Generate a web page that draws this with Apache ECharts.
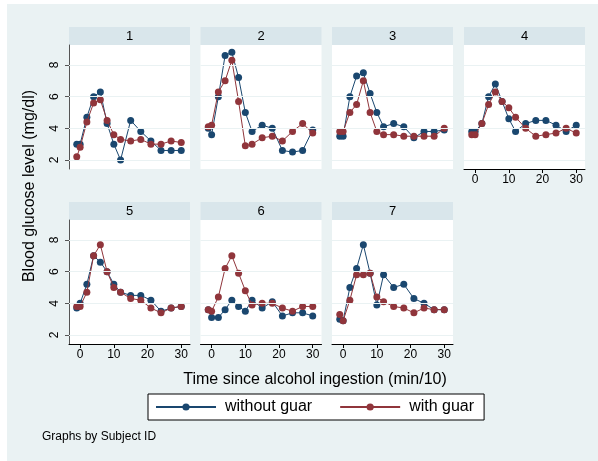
<!DOCTYPE html>
<html>
<head>
<meta charset="utf-8">
<script src="https://cdn.jsdelivr.net/npm/echarts@6/dist/echarts.min.js"></script>
<style>
  html, body { margin: 0; padding: 0; background: #ffffff; }
  #chart { width: 598px; height: 461px; }
</style>
</head>
<body>
<div id="chart"></div>
<script>
// Blood glucose after alcohol, with and without guar, one panel per subject
const panelNames = ['1', '2', '3', '4', '5', '6', '7'];
const times = [-1, 0, 2, 4, 6, 8, 10, 12, 15, 18, 21, 24, 27, 30];
const xTicks = [0, 10, 20, 30];
const yTicks = [2, 4, 6, 8];
const seriesNames = ['without guar', 'with guar'];

const subj1Without = [3.0, 3.0, 4.7, 6.0, 6.3, 4.3, 3.0, 2.0, 4.5, 3.8, 3.2, 2.6, 2.6, 2.6];
const subj1With    = [2.2, 2.8, 4.4, 5.6, 5.8, 4.5, 3.6, 3.3, 3.2, 3.3, 3.0, 3.0, 3.2, 3.1];
const subj2Without = [4.0, 3.6, 6.0, 8.6, 8.8, 7.2, 5.0, 3.8, 4.2, 4.0, 2.6, 2.5, 2.6, 3.9];
const subj2With    = [4.1, 4.2, 6.3, 7.0, 8.3, 5.7, 2.9, 3.0, 3.4, 3.5, 3.2, 3.8, 4.3, 3.7];
const subj3Without = [3.5, 3.5, 6.0, 7.3, 7.5, 6.2, 5.0, 4.1, 4.3, 4.1, 3.4, 3.8, 3.8, 3.9];
const subj3With    = [3.8, 3.8, 5.0, 5.5, 7.0, 5.0, 3.8, 3.6, 3.6, 3.5, 3.5, 3.5, 3.5, 4.0];
const subj4Without = [3.8, 3.8, 4.3, 6.0, 6.8, 5.7, 4.6, 3.8, 4.3, 4.5, 4.5, 4.2, 3.8, 4.2];
const subj4With    = [3.6, 3.6, 4.3, 5.5, 6.3, 5.7, 5.3, 4.7, 4.0, 3.5, 3.6, 3.7, 4.0, 3.7];
const subj5Without = [3.7, 4.0, 5.2, 7.0, 6.6, 6.0, 5.2, 4.7, 4.5, 4.5, 4.2, 3.5, 3.7, 3.8];
const subj5With    = [3.8, 3.8, 4.7, 7.0, 7.7, 6.0, 5.0, 4.7, 4.3, 4.2, 3.7, 3.4, 3.7, 3.8];
const subj6Without = [3.6, 3.1, 3.1, 3.6, 4.2, 3.8, 3.5, 4.2, 3.7, 4.1, 3.2, 3.4, 3.4, 3.2];
const subj6With    = [3.6, 3.5, 4.4, 6.2, 7.0, 5.9, 4.8, 3.9, 4.0, 4.0, 3.7, 3.5, 3.8, 3.8];
const subj7Without = [3.0, 2.9, 5.0, 6.2, 7.7, 5.9, 3.9, 5.8, 5.0, 5.2, 4.3, 4.0, 3.6, 3.6];
const subj7With    = [3.3, 2.9, 4.2, 5.8, 5.8, 5.9, 4.4, 4.1, 3.8, 3.7, 3.4, 3.7, 3.6, 3.6];

const withoutBySubject = [subj1Without, subj2Without, subj3Without, subj4Without, subj5Without, subj6Without, subj7Without];
const withBySubject = [subj1With, subj2With, subj3With, subj4With, subj5With, subj6With, subj7With];

// Layout of the 4x2 panel grid
const FONT = 'Liberation Sans, Arial, sans-serif';
const colLeft = [69, 200.5, 332, 464];
const rowTop = [45, 220];
const plotW = 121;
const plotH = 124;
const stripH = 18;
const BLUE = '#1a476f';
const RED = '#90353b';
const BG = '#eaf2f3';
const STRIP = '#d9e6eb';

const grids = [], xAxes = [], yAxes = [], series = [];
const graphics = [
  { type: 'rect', shape: { x: 7, y: 4, width: 591, height: 457 }, style: { fill: BG }, z: -10 }
];

panelNames.forEach((name, i) => {
  const col = i % 4;
  const row = Math.floor(i / 4);
  const left = colLeft[col];
  const top = rowTop[row];
  const showX = row === 1 || (row === 0 && col === 3);
  const showY = col === 0;

  grids.push({
    left: left, top: top, width: plotW, height: plotH,
    show: true, backgroundColor: '#ffffff', borderWidth: 0, containLabel: false
  });

  xAxes.push({
    type: 'value', gridIndex: i, min: -3.3, max: 32.6,
    axisLine: { show: showX, onZero: false, lineStyle: { color: '#000000', width: 1 } },
    axisTick: { show: showX, length: 4, customValues: xTicks, lineStyle: { color: '#000000' } },
    axisLabel: { show: showX, customValues: xTicks, margin: 5, color: '#000000', fontSize: 12, fontFamily: FONT },
    splitLine: { show: false }
  });

  yAxes.push({
    type: 'value', gridIndex: i, min: 1.43, max: 9.26,
    axisLine: { show: showY, onZero: false, lineStyle: { color: '#555555', width: 1 } },
    axisTick: { show: showY, length: 4, customValues: yTicks, lineStyle: { color: '#555555' } },
    axisLabel: { show: showY, customValues: yTicks, rotate: 90, margin: 8, color: '#000000', fontSize: 12, fontFamily: FONT },
    splitLine: { show: false }
  });

  // light horizontal gridlines at the y ticks
  series.push({
    type: 'line', xAxisIndex: i, yAxisIndex: i, data: [], z: 1, silent: true,
    markLine: {
      silent: true, symbol: ['none', 'none'], label: { show: false },
      lineStyle: { color: BG, width: 1, type: 'solid' },
      data: yTicks.map(v => ({ yAxis: v }))
    }
  });

  const pairs = [withoutBySubject[i], withBySubject[i]];
  const colors = [BLUE, RED];
  pairs.forEach((vals, k) => {
    series.push({
      name: seriesNames[k], type: 'line', xAxisIndex: i, yAxisIndex: i, z: 3 + k,
      data: times.map((t, j) => [t, vals[j]]),
      symbol: 'circle', symbolSize: 7, showSymbol: true,
      lineStyle: { color: colors[k], width: 1 },
      itemStyle: { color: colors[k] }
    });
  });

  // subject strip above each panel
  graphics.push({
    type: 'rect', shape: { x: left, y: top - stripH, width: plotW, height: stripH },
    style: { fill: STRIP }, z: -5
  });
  graphics.push({
    type: 'text', x: left + plotW / 2, y: top - stripH / 2,
    style: { text: name, fill: '#000000', font: '13px ' + FONT, textAlign: 'center', textVerticalAlign: 'middle' },
    z: 10
  });
});

graphics.push({
  type: 'text', x: 30, y: 186, rotation: Math.PI / 2,
  style: { text: 'Blood glucose level (mg/dl)', fill: '#000000', font: '16px ' + FONT, textAlign: 'center', textVerticalAlign: 'middle' },
  z: 10
});
graphics.push({
  type: 'text', x: 315, y: 380,
  style: { text: 'Time since alcohol ingestion (min/10)', fill: '#000000', font: '16px ' + FONT, textAlign: 'center', textVerticalAlign: 'middle' },
  z: 10
});
graphics.push({
  type: 'text', x: 42, y: 437,
  style: { text: 'Graphs by Subject ID', fill: '#000000', font: '12px ' + FONT, textAlign: 'left', textVerticalAlign: 'middle' },
  z: 10
});

const chart = echarts.init(document.getElementById('chart'), null, { renderer: 'canvas' });
chart.setOption({
  animation: false,
  backgroundColor: '#ffffff',
  grid: grids,
  xAxis: xAxes,
  yAxis: yAxes,
  legend: {
    data: seriesNames,
    left: 148, top: 394,
    orient: 'horizontal',
    itemWidth: 60, itemHeight: 9, itemGap: 27,
    padding: [5, 10, 5, 7],
    borderColor: '#000000', borderWidth: 1, backgroundColor: '#ffffff',
    textStyle: { color: '#000000', fontSize: 16, fontFamily: FONT, padding: [0, 0, 0, 4] },
    selectedMode: false
  },
  graphic: graphics,
  series: series
});
</script>
</body>
</html>
